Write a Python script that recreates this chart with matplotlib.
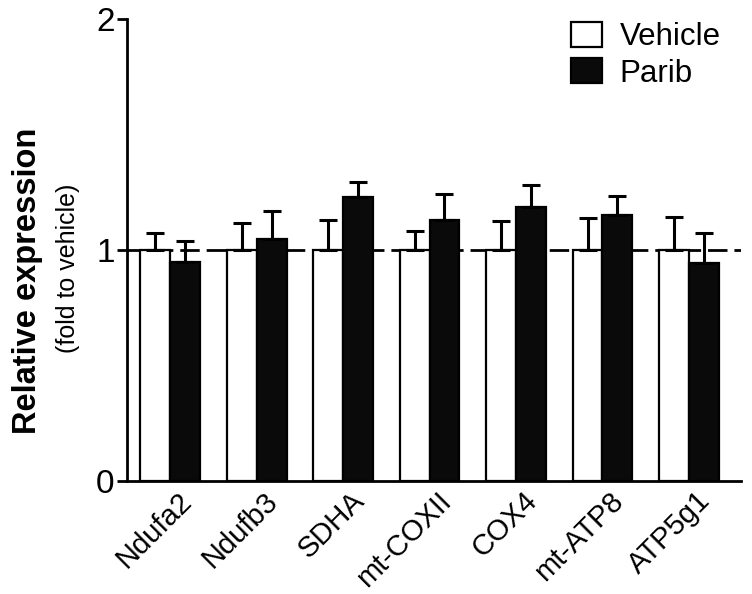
import matplotlib.pyplot as plt
import numpy as np
from matplotlib.transforms import ScaledTranslation

plt.rcParams['font.family'] = ['Liberation Sans', 'DejaVu Sans']

genes = ['Ndufa2', 'Ndufb3', 'SDHA', 'mt-COXII', 'COX4', 'mt-ATP8', 'ATP5g1']
vehicle = [1.0, 1.0, 1.0, 1.0, 1.0, 1.0, 1.0]
vehicle_err = [0.072, 0.118, 0.128, 0.082, 0.126, 0.137, 0.144]
parib = [0.95, 1.049, 1.231, 1.131, 1.185, 1.152, 0.945]
parib_err = [0.088, 0.118, 0.062, 0.113, 0.097, 0.082, 0.13]

fig = plt.figure(figsize=(7.52, 5.94), dpi=100)
ax = fig.add_axes([0.169, 0.190, 0.816, 0.778])

x = np.arange(len(genes))
w = 0.345
err_kw = dict(ecolor='black', elinewidth=2.2, capsize=6.5, capthick=2.2)

ax.axhline(1, color='black', lw=2, ls=(0, (7, 2.5)), zorder=1)
ax.bar(x - w / 2, vehicle, w, color='white', edgecolor='black', linewidth=1.6,
       yerr=[np.zeros(len(x)), vehicle_err], error_kw=err_kw, zorder=2, label='Vehicle')
ax.bar(x + w / 2, parib, w, color='#0a0a0a', edgecolor='black', linewidth=1.6,
       yerr=[np.zeros(len(x)), parib_err], error_kw=err_kw, zorder=2, label='Parib')

ax.set_xlim(-0.5, 6.6)
ax.set_ylim(0, 2)
ax.set_yticks([0, 1, 2])
ax.tick_params(axis='y', labelsize=24, width=2, length=7, pad=2)
ax.set_xticks(x)
ax.set_xticklabels(genes, rotation=45, ha='right', rotation_mode='anchor', fontsize=21)
ax.tick_params(axis='x', length=0, pad=4)
# nudge the rotated labels a little to the right
shift = ScaledTranslation(5 / 72, 0, fig.dpi_scale_trans)
for lbl in ax.get_xticklabels():
    lbl.set_transform(lbl.get_transform() + shift)
for s in ['top', 'right']:
    ax.spines[s].set_visible(False)
for s in ['left', 'bottom']:
    ax.spines[s].set_linewidth(2)

fig.text(0.036, 0.528, 'Relative expression', rotation=90, ha='center', va='center',
         fontsize=23.5, fontweight='bold')
fig.text(0.09, 0.548, '(fold to vehicle)', rotation=90, ha='center', va='center',
         fontsize=18)

handles, labels = ax.get_legend_handles_labels()
leg = ax.legend(handles, labels, loc='upper right', bbox_to_anchor=(1.013, 1.055),
                frameon=False, fontsize=22.5, handlelength=1.0, handleheight=0.85,
                handletextpad=0.55, labelspacing=0.2)

fig.savefig('out.png', dpi=100)
